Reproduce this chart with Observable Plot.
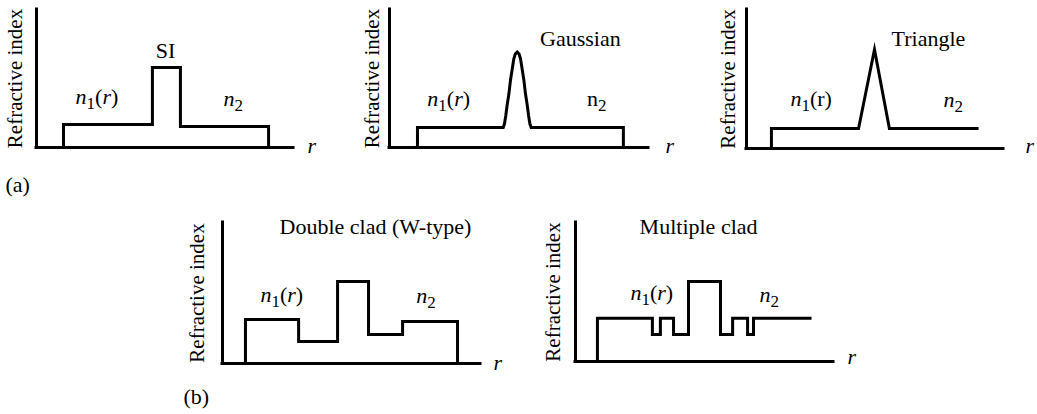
<!DOCTYPE html>
<html>
<head>
<meta charset="utf-8">
<script src="https://cdn.jsdelivr.net/npm/d3@7"></script>
<script src="https://cdn.jsdelivr.net/npm/@observablehq/plot@0.6"></script>
<style>
  html, body { margin: 0; padding: 0; background: #fff; font-family: "Liberation Serif", serif; }
  #chart { position: relative; width: 1037px; height: 414px; overflow: hidden; background: #fff; }
  #chart svg { position: absolute; left: 0; top: 0; }
</style>
</head>
<body>
<div id="chart"></div>
<script>
// ---------------- DATA (arbitrary units: radius r 0–100, index n 0–100) ----------------
// (a) Step index: edges of the profile steps and the level between them
const siEdges  = [10.5, 45.1, 56.0, 90.3];
const siLevels = [16.7, 58.0, 15.2];

// (a) Gaussian: profile points
const gaussR = [10.8, 10.8, 43.9, 44.4, 44.9, 45.4, 46.1, 46.7, 47.4, 48.0, 48.6, 49.3,
                50.0, 50.6, 51.2, 51.9, 52.5, 53.2, 53.7, 54.2, 54.7, 90.3, 90.3];
const gaussN = [0, 14.5, 14.5, 17.2, 23.2, 30.4, 38.9, 48.6, 57.0, 64.3, 67.9, 69.1,
                67.9, 64.3, 57.0, 48.6, 38.9, 30.4, 23.2, 17.2, 14.5, 14.5, 0];

// (a) Triangle
const triR = [9.7, 9.7, 43.6, 49.8, 55.6, 90.3];
const triN = [0, 14.4, 14.4, 71.2, 14.4, 14.4];

// (b) Double clad (W-type)
const wEdges  = [8.9, 29.5, 44.6, 56.6, 69.8, 91.1];
const wLevels = [31.2, 15.6, 58.2, 20.6, 29.8];

// (b) Multiple clad
const mcEdges  = [8.5, 29.8, 32.9, 38.0, 43.8, 56.2, 60.9, 66.7, 69.0, 91.5];
const mcLevels = [31.2, 19.4, 31.2, 19.4, 57.6, 19.4, 31.2, 19.4, 31.2];

// Texts (markup: *x* italic, _x subscript)
const titles      = ["SI", "Gaussian", "Triangle", "Double clad (W-type)", "Multiple clad"];
const titleR      = [50.2, 73.7, 70.8, 59.3, 47.7];
const titleN      = [64.5, 73.2, 73.4, 91.5, 91.4];
const coreLabels  = ["*n*_1(*r*)", "*n*_1(*r*)", "*n*_1(r)", "*n*_1(*r*)", "*n*_1(*r*)"];
const coreR       = [15.2, 14.6, 17.1, 14.7, 21.3];
const coreN       = [31.2, 30.4, 30.9, 43.3, 43.9];
const cladLabels  = ["*n*_2", "n_2", "*n*_2", "*n*_2", "*n*_2"];
const cladR       = [72.8, 76.3, 76.7, 75.1, 71.3];
const cladN       = [30.4, 30.4, 30.2, 42.8, 42.7];
const yLabel = "Refractive index";
const xLabel = "r";
const partLabels = ["(a)", "(b)"];

// ---------------- LAYOUT ----------------
const W = 1037, H = 414;
const FONT = "Liberation Serif";
const FS = 22;      // titles and labels
const FS_Y = 21;    // rotated axis label
const frames = [
  {x0: 36,  x1: 293,  yt: 9,   yb: 147, ylabDx: -21, xlabDx: 14, xlabDy: 5, part: 0, partDx: -31, partDy: 44},
  {x0: 389, x1: 648,  yt: 9,   yb: 147, ylabDx: -17, xlabDx: 17, xlabDy: 5},
  {x0: 746, x1: 1003, yt: 9,   yb: 148, ylabDx: -18, xlabDx: 22, xlabDy: 4},
  {x0: 222, x1: 480,  yt: 222, yb: 363, ylabDx: -25, xlabDx: 13, xlabDy: 6, part: 1, partDx: -39, partDy: 40},
  {x0: 575, x1: 833,  yt: 222, yb: 361, ylabDx: -22, xlabDx: 14, xlabDy: 2}
];

// ---------------- PROFILES ----------------
function stepPoints(edges, levels, drop) {
  const pts = [{r: edges[0], n: 0}];
  levels.forEach((n, i) => pts.push({r: edges[i], n}));
  pts.push({r: edges[edges.length - 1], n: drop ? 0 : levels[levels.length - 1]});
  return pts;
}
const zipPts = (R, N) => R.map((r, i) => ({r, n: N[i]}));

const profiles = [
  {pts: stepPoints(siEdges, siLevels, true), curve: "step-after"},
  {pts: zipPts(gaussR, gaussN), curve: "linear"},
  {pts: zipPts(triR, triN), curve: "linear"},
  {pts: stepPoints(wEdges, wLevels, true), curve: "step-after"},
  {pts: stepPoints(mcEdges, mcLevels, false), curve: "step-after"}
];

// ---------------- RICH TEXT ----------------
const SVGNS = "http://www.w3.org/2000/svg";
function richify(svg) {
  svg.querySelectorAll("text").forEach(t => {
    const s = t.textContent;
    if (!/[*_]/.test(s)) return;
    t.textContent = "";
    const re = /\*([^*]+)\*|_(.)|([^*_]+)/g;
    let m, shifted = false;
    while ((m = re.exec(s))) {
      const ts = document.createElementNS(SVGNS, "tspan");
      if (m[2] !== undefined) {
        ts.textContent = m[2];
        ts.setAttribute("dy", "5");
        ts.setAttribute("font-size", "17");
        shifted = true;
      } else {
        ts.textContent = m[1] !== undefined ? m[1] : m[3];
        if (m[1] !== undefined) ts.setAttribute("font-style", "italic");
        if (shifted) { ts.setAttribute("dy", "-5"); shifted = false; }
      }
      t.appendChild(ts);
    }
  });
}

// ---------------- DRAW ----------------
const chart = document.getElementById("chart");
frames.forEach((f, i) => {
  const textOpts = {fontFamily: FONT, fontSize: FS, fill: "black", lineAnchor: "bottom"};
  const marks = [
    Plot.ruleX([0], {stroke: "black", strokeWidth: 3, strokeLinecap: "square"}),
    Plot.ruleY([0], {stroke: "black", strokeWidth: 3, strokeLinecap: "square"}),
    Plot.line(profiles[i].pts, {
      x: "r", y: "n", curve: profiles[i].curve,
      stroke: "black", strokeWidth: 3,
      strokeLinejoin: "miter", strokeLinecap: "butt", strokeMiterlimit: 12
    }),
    Plot.text([titles[i]], {...textOpts, text: d => d, x: () => titleR[i], y: () => titleN[i], textAnchor: "middle"}),
    Plot.text([coreLabels[i]], {...textOpts, text: d => d, x: () => coreR[i], y: () => coreN[i], textAnchor: "start"}),
    Plot.text([cladLabels[i]], {...textOpts, text: d => d, x: () => cladR[i], y: () => cladN[i], textAnchor: "start"}),
    Plot.text([yLabel], {
      fontFamily: FONT, fontSize: FS_Y, fill: "black", text: d => d,
      frameAnchor: "left", rotate: -90, dx: f.ylabDx, textAnchor: "middle", lineAnchor: "middle"
    }),
    Plot.text([xLabel], {
      ...textOpts, text: d => d, fontStyle: "italic",
      frameAnchor: "bottom-right", dx: f.xlabDx, dy: f.xlabDy, textAnchor: "start"
    })
  ];
  if (f.part !== undefined) {
    marks.push(Plot.text([partLabels[f.part]], {
      ...textOpts, text: d => d,
      frameAnchor: "bottom-left", dx: f.partDx, dy: f.partDy, textAnchor: "start"
    }));
  }
  const svg = Plot.plot({
    width: W, height: H,
    marginLeft: f.x0, marginRight: W - f.x1, marginTop: f.yt, marginBottom: H - f.yb,
    x: {domain: [0, 100], axis: null},
    y: {domain: [0, 100], axis: null},
    style: {background: "transparent", overflow: "visible"},
    marks
  });
  richify(svg);
  chart.appendChild(svg);
});
</script>
</body>
</html>
